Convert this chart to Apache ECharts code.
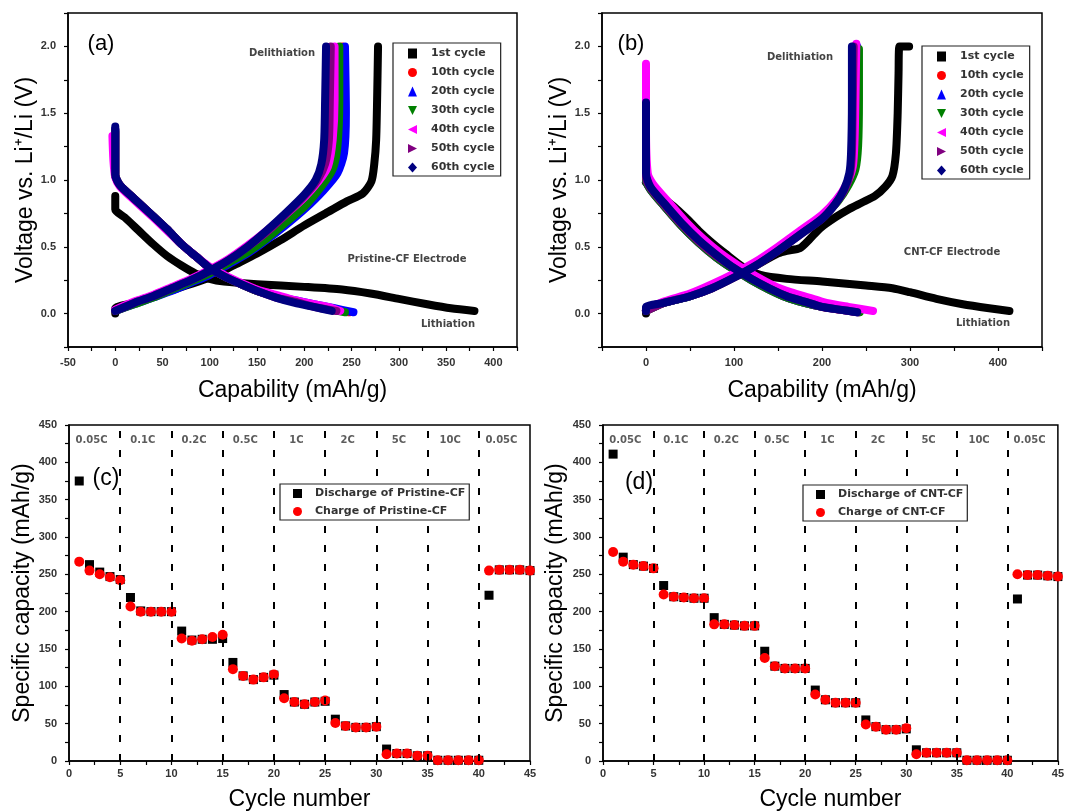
<!DOCTYPE html>
<html>
<head>
<meta charset="utf-8">
<script src="https://cdn.jsdelivr.net/npm/echarts@6/dist/echarts.min.js"></script>
<style>
  html, body { margin: 0; padding: 0; background: #fff; }
  #chart { width: 1067px; height: 812px; }
</style>
</head>
<body>
<div id="chart"></div>
<script>
// ---- (a) Pristine-CF : [capacity mAh/g, voltage V] ----
const aLi1 = [[0,0.88],[0,0.78],[10,0.72],[25,0.62],[40,0.52],[55,0.43],[70,0.36],[85,0.30],[100,0.26],[115,0.24],[150,0.22],[200,0.20],[240,0.18],[270,0.15],[300,0.11],[330,0.07],[355,0.04],[380,0.02]]
const aDe1 = [[0,0.0],[0,0.04],[20,0.08],[50,0.15],[75,0.21],[100,0.27],[125,0.36],[150,0.45],[175,0.55],[200,0.66],[225,0.76],[245,0.84],[262,0.90],[271,0.99],[274,1.12],[276,1.3],[277,1.6],[278,2.0]]
const aLi10 = [[0,1.36],[0,1.2],[0,1.04],[5,0.96],[20,0.86],[40,0.73],[55,0.63],[70,0.52],[85,0.43],[100,0.34],[115,0.28],[130,0.23],[150,0.17],[170,0.13],[190,0.09],[210,0.06],[230,0.03],[247,0.01]]
const aDe10 = [[0,0.02],[20,0.08],[40,0.13],[60,0.18],[80,0.24],[100,0.30],[120,0.38],[140,0.47],[160,0.57],[180,0.69],[200,0.82],[216,0.95],[229,1.08],[236,1.25],[239,1.6],[240,2.0]]
const aLi20 = [[0,1.38],[0,1.2],[0,1.04],[5,0.96],[20,0.86],[40,0.73],[55,0.63],[70,0.52],[85,0.43],[100,0.34],[115,0.28],[130,0.23],[150,0.17],[170,0.13],[190,0.10],[210,0.07],[232,0.04],[252,0.01]]
const aDe20 = [[0,0.02],[20,0.07],[40,0.12],[60,0.17],[80,0.23],[100,0.29],[120,0.37],[140,0.45],[160,0.55],[180,0.66],[200,0.78],[220,0.92],[235,1.05],[242,1.2],[244,1.5],[243,2.0]]
const aLi30 = [[0,1.37],[0,1.2],[0,1.04],[5,0.96],[20,0.86],[40,0.73],[55,0.63],[70,0.52],[85,0.43],[100,0.34],[115,0.28],[130,0.23],[150,0.17],[170,0.13],[190,0.09],[210,0.06],[228,0.03],[243,0.01]]
const aDe30 = [[0,0.02],[20,0.07],[40,0.12],[60,0.18],[80,0.24],[100,0.30],[120,0.38],[140,0.46],[160,0.56],[180,0.68],[200,0.80],[218,0.95],[230,1.08],[235,1.25],[237,1.6],[237,2.0]]
const aLi40 = [[-3,1.33],[-2,1.15],[0,1.02],[5,0.95],[20,0.85],[40,0.72],[55,0.62],[70,0.52],[85,0.43],[100,0.35],[115,0.29],[130,0.24],[150,0.18],[170,0.14],[190,0.10],[210,0.07],[225,0.05],[238,0.02]]
const aDe40 = [[0,0.03],[20,0.09],[40,0.14],[60,0.20],[80,0.26],[100,0.33],[120,0.41],[140,0.51],[160,0.62],[180,0.74],[200,0.87],[215,0.99],[225,1.1],[230,1.3],[232,1.6],[232,2.0]]
const aLi50 = [[0,1.38],[0,1.2],[0,1.04],[5,0.96],[20,0.86],[40,0.73],[55,0.63],[70,0.52],[85,0.43],[100,0.34],[115,0.28],[130,0.23],[150,0.17],[170,0.12],[190,0.09],[210,0.05],[234,0.02]]
const aDe50 = [[0,0.02],[20,0.08],[40,0.13],[60,0.19],[80,0.25],[100,0.32],[120,0.40],[140,0.50],[160,0.61],[180,0.74],[200,0.88],[214,1.0],[222,1.12],[226,1.3],[227,1.6],[228,2.0]]
const aLi60 = [[0,1.40],[0,1.2],[0,1.04],[5,0.96],[20,0.86],[40,0.73],[55,0.63],[70,0.52],[85,0.43],[100,0.34],[115,0.28],[130,0.23],[150,0.17],[170,0.12],[190,0.08],[210,0.05],[229,0.02]]
const aDe60 = [[0,0.02],[20,0.08],[40,0.13],[60,0.19],[80,0.25],[100,0.32],[120,0.40],[140,0.50],[160,0.62],[180,0.75],[200,0.89],[212,1.0],[218,1.12],[221,1.3],[222,1.6],[223,2.0]]

// ---- (b) CNT-CF ----
const bLi1 = [[0,0.98],[10,0.91],[20,0.86],[32,0.80],[45,0.72],[60,0.62],[75,0.53],[90,0.45],[110,0.35],[130,0.29],[160,0.26],[200,0.24],[250,0.21],[280,0.19],[300,0.16],[330,0.11],[360,0.07],[390,0.04],[413,0.02]]
const bDe1 = [[0,0.0],[0,0.04],[20,0.08],[50,0.13],[75,0.19],[100,0.27],[125,0.36],[150,0.45],[160,0.47],[175,0.49],[185,0.55],[198,0.64],[215,0.72],[230,0.78],[245,0.83],[260,0.88],[272,0.95],[280,1.03],[284,1.2],[286,1.5],[287,1.8],[288,2.0],[299,2.0]]
const bLi10 = [[0,1.50],[0,1.2],[0,1.0],[5,0.93],[20,0.81],[40,0.66],[60,0.53],[80,0.42],[100,0.33],[120,0.25],[140,0.18],[160,0.12],[180,0.08],[200,0.05],[220,0.03],[242,0.01]]
const bDe10 = [[0,0.02],[20,0.08],[50,0.14],[75,0.21],[100,0.29],[125,0.38],[150,0.49],[175,0.61],[200,0.73],[216,0.84],[227,0.95],[234,1.07],[237,1.25],[238,1.6],[239,2.0]]
const bLi20 = [[0,1.52],[0,1.2],[0,1.0],[5,0.93],[20,0.81],[40,0.66],[60,0.53],[80,0.42],[100,0.33],[120,0.25],[140,0.18],[160,0.12],[180,0.08],[200,0.05],[220,0.03],[241,0.01]]
const bDe20 = [[0,0.02],[20,0.08],[50,0.13],[75,0.20],[100,0.28],[125,0.37],[150,0.48],[175,0.60],[200,0.72],[216,0.83],[227,0.94],[234,1.06],[237,1.25],[238,1.6],[240,2.0]]
const bLi30 = [[0,1.50],[0,1.2],[0,1.0],[5,0.93],[20,0.81],[40,0.66],[60,0.53],[80,0.42],[100,0.33],[120,0.25],[140,0.18],[160,0.12],[180,0.08],[200,0.05],[222,0.03],[243,0.01]]
const bDe30 = [[0,0.02],[20,0.08],[50,0.13],[75,0.20],[100,0.28],[125,0.37],[150,0.48],[175,0.60],[200,0.72],[218,0.84],[230,0.96],[238,1.08],[241,1.25],[242,1.6],[242,1.98]]
const bLi40 = [[0,1.87],[0,1.4],[2,1.05],[8,0.97],[25,0.84],[45,0.69],[65,0.56],[85,0.45],[105,0.36],[125,0.28],[145,0.21],[165,0.16],[185,0.12],[205,0.08],[230,0.05],[258,0.02]]
const bDe40 = [[0,0.03],[20,0.09],[50,0.15],[75,0.22],[100,0.30],[125,0.39],[150,0.50],[175,0.62],[200,0.74],[216,0.85],[228,0.97],[235,1.1],[237,1.3],[238,1.6],[239,2.02]]
const bLi50 = [[0,1.55],[0,1.2],[0,1.02],[5,0.94],[20,0.82],[40,0.67],[60,0.54],[80,0.43],[100,0.34],[120,0.26],[140,0.19],[160,0.13],[180,0.09],[200,0.05],[220,0.03],[240,0.01]]
const bDe50 = [[0,0.02],[20,0.08],[50,0.13],[75,0.19],[100,0.27],[125,0.36],[150,0.47],[175,0.59],[200,0.71],[215,0.82],[226,0.93],[232,1.05],[234,1.2],[235,1.6],[236,2.0]]
const bLi60 = [[0,1.58],[0,1.3],[0,1.05],[5,0.95],[20,0.83],[40,0.68],[60,0.55],[80,0.44],[100,0.34],[120,0.26],[140,0.19],[160,0.13],[180,0.09],[200,0.05],[220,0.03],[240,0.01]]
const bDe60 = [[0,0.02],[0,0.05],[20,0.08],[50,0.13],[75,0.19],[100,0.27],[125,0.36],[150,0.47],[175,0.59],[200,0.71],[215,0.82],[225,0.93],[231,1.05],[233,1.2],[234,1.6],[234,2.0]]

// ---- (c)/(d) rate capability ----
const cycles = [1,2,3,4,5,6,7,8,9,10,11,12,13,14,15,16,17,18,19,20,21,22,23,24,25,26,27,28,29,30,31,32,33,34,35,36,37,38,39,40,41,42,43,44,45]
const pristineDischarge = [375,263,253,247,243,219,201,200,200,200,174,162,163,163,164,132,114,109,112,115,89,79,76,79,80,56,47,45,45,46,16,10,10,7,7,1,1,1,1,1,222,256,256,256,255]
const pristineCharge = [267,255,250,246,242,207,200,200,200,200,164,161,163,166,169,123,114,109,112,116,84,79,76,79,81,51,47,45,45,46,9,10,10,7,7,1,1,1,1,1,255,256,256,256,255]
const cntDischarge = [411,273,263,261,258,235,220,219,218,218,192,183,182,181,181,147,127,124,124,124,95,82,78,78,78,55,46,42,42,43,15,11,11,11,11,1,1,1,1,1,217,249,249,248,247]
const cntCharge = [280,267,263,261,258,223,220,219,218,218,183,183,182,181,181,138,127,124,124,124,89,82,78,78,78,49,46,42,42,44,9,11,11,11,11,1,1,1,1,1,250,249,249,248,247]
const rateNames = ['0.05C','0.1C','0.2C','0.5C','1C','2C','5C','10C','0.05C']
const rateBounds = [5,10,15,20,25,30,35,40]

const cycleNames = ['1st cycle','10th cycle','20th cycle','30th cycle','40th cycle','50th cycle','60th cycle']
const cycleColors = ['#000000','#ff0000','#0000ff','#008000','#ff00ff','#800080','#000080']
const cycleIcons = ['rect','circle','triangle','path://M0,0L10,0L5,10Z','path://M10,0L10,10L0,5Z','path://M0,0L10,5L0,10Z','diamond']
const aCurves = [[aLi1,aDe1],[aLi10,aDe10],[aLi20,aDe20],[aLi30,aDe30],[aLi40,aDe40],[aLi50,aDe50],[aLi60,aDe60]]
const bCurves = [[bLi1,bDe1],[bLi10,bDe10],[bLi20,bDe20],[bLi30,bDe30],[bLi40,bDe40],[bLi50,bDe50],[bLi60,bDe60]]

const chart = echarts.init(document.getElementById('chart'))
const FONT = 'Arial, "Liberation Sans", sans-serif'
const SMALL = '"DejaVu Sans", Arial, sans-serif'

function onStep (v, step) {
  const r = v / step
  return Math.abs(r - Math.round(r)) < 1e-6
}

// value axis with ticks every `step`, labels every `labelStep`
function axis (type, grid, min, max, step, labelStep, dec, name, gap, opts) {
  opts = opts || {}
  return {
    type: 'value',
    gridIndex: grid,
    min: min,
    max: max,
    interval: step,
    name: name,
    nameLocation: 'middle',
    nameGap: gap,
    nameTextStyle: { fontFamily: FONT, fontSize: 23, color: '#000' },
    axisLine: { show: true, onZero: false, lineStyle: { color: '#000', width: 1.5 } },
    axisTick: { show: true, length: 4, lineStyle: { color: '#000', width: 1.2 } },
    splitLine: { show: false },
    axisLabel: {
      fontFamily: FONT,
      fontSize: 11,
      fontWeight: 'bold',
      color: '#333',
      margin: type === 'x' ? (opts.xMargin || 8) : 12,
      showMaxLabel: true,
      showMinLabel: true,
      formatter: v => {
        if (!onStep(v, labelStep)) return ''
        if (opts.nonNeg && v < 0) return ''
        return v.toFixed(dec)
      }
    }
  }
}

const grids = [
  { left: 68, top: 13, width: 449, height: 334 },
  { left: 602, top: 13, width: 440, height: 334 },
  { left: 69, top: 425, width: 461, height: 337 },
  { left: 603, top: 425, width: 461, height: 337 }
].map(g => Object.assign({ show: true, borderColor: '#000', borderWidth: 1.5, backgroundColor: 'transparent' }, g))

const xAxes = [
  axis('x', 0, -50, 425, 25, 50, 0, 'Capability (mAh/g)', 32, { xMargin: 10 }),
  axis('x', 1, -50, 450, 50, 100, 0, 'Capability (mAh/g)', 32, { xMargin: 10, nonNeg: true }),
  axis('x', 2, 0, 45, 2.5, 5, 0, 'Cycle number', 27, { xMargin: 7 }),
  axis('x', 3, 0, 45, 2.5, 5, 0, 'Cycle number', 27, { xMargin: 7 })
]
const yAxes = [
  axis('y', 0, -0.25, 2.25, 0.25, 0.5, 1, 'Voltage vs. Li\u207A/Li (V)', 31),
  axis('y', 1, -0.25, 2.25, 0.25, 0.5, 1, 'Voltage vs. Li\u207A/Li (V)', 28),
  axis('y', 2, 0, 450, 25, 50, 0, 'Specific capacity (mAh/g)', 35),
  axis('y', 3, 0, 450, 25, 50, 0, 'Specific capacity (mAh/g)', 36)
]

const series = []
function addVoltage (curves, gridIndex) {
  curves.forEach((pair, i) => {
    pair.forEach(curve => {
      series.push({
        type: 'line',
        name: cycleNames[i],
        xAxisIndex: gridIndex,
        yAxisIndex: gridIndex,
        data: curve,
        smooth: 0.25,
        showSymbol: false,
        symbol: cycleIcons[i],
        itemStyle: { color: cycleColors[i] },
        lineStyle: { color: cycleColors[i], width: 8, cap: 'round', join: 'round' },
        silent: true,
        animation: false
      })
    })
  })
}
addVoltage(aCurves, 0)
addVoltage(bCurves, 1)

function addRate (gridIndex, dis, chg, disName, chgName) {
  series.push({
    type: 'scatter',
    name: disName,
    xAxisIndex: gridIndex,
    yAxisIndex: gridIndex,
    symbol: 'rect',
    symbolSize: 9,
    itemStyle: { color: '#000', opacity: 1 },
    data: cycles.map((c, i) => [c, dis[i]]),
    markLine: {
      silent: true,
      symbol: ['none', 'none'],
      label: { show: false },
      lineStyle: { color: '#000', width: 2, type: [7, 12], opacity: 1 },
      data: rateBounds.map(x => ({ xAxis: x }))
    },
    animation: false
  })
  series.push({
    type: 'scatter',
    name: chgName,
    xAxisIndex: gridIndex,
    yAxisIndex: gridIndex,
    symbol: 'circle',
    symbolSize: 10,
    itemStyle: { color: '#ff0000', opacity: 1 },
    data: cycles.map((c, i) => [c, chg[i]]),
    animation: false
  })
  series.push({
    type: 'scatter',
    name: 'rates',
    xAxisIndex: gridIndex,
    yAxisIndex: gridIndex,
    symbolSize: 0,
    silent: true,
    label: {
      show: true,
      position: 'inside',
      offset: [-3, 0],
      formatter: p => p.name,
      fontFamily: SMALL,
      fontSize: 10,
      fontWeight: 'bold',
      color: '#333'
    },
    data: rateNames.map((n, i) => ({ name: n, value: [5 * i + 2.5, 430] })),
    animation: false
  })
}
addRate(2, pristineDischarge, pristineCharge, 'Discharge of Pristine-CF', 'Charge of Pristine-CF')
addRate(3, cntDischarge, cntCharge, 'Discharge of CNT-CF', 'Charge of CNT-CF')

function cycleLegend (left, top) {
  return {
    left: left,
    top: top,
    z: 10,
    orient: 'vertical',
    selectedMode: false,
    backgroundColor: '#fff',
    borderColor: '#222',
    borderWidth: 1.2,
    padding: [5, 6, 3, 15],
    itemGap: 8,
    itemWidth: 9,
    itemHeight: 10,
    textStyle: { fontFamily: SMALL, fontSize: 11, fontWeight: 'bold', color: '#333', padding: [0, 0, 0, 9] },
    data: cycleNames.map((n, i) => ({ name: n, icon: cycleIcons[i] }))
  }
}
function rateLegend (left, top, names) {
  return {
    left: left,
    top: top,
    z: 10,
    orient: 'vertical',
    selectedMode: false,
    backgroundColor: '#fff',
    borderColor: '#222',
    borderWidth: 1.2,
    padding: [4, 4, 3, 13],
    itemGap: 7,
    itemWidth: 9,
    itemHeight: 9,
    textStyle: { fontFamily: SMALL, fontSize: 11, fontWeight: 'bold', color: '#333', padding: [0, 0, 0, 8] },
    data: [{ name: names[0], icon: 'rect' }, { name: names[1], icon: 'circle' }]
  }
}

function txt (x, y, text, size, weight, color, family) {
  return {
    type: 'text',
    x: x,
    y: y,
    z: 100,
    style: {
      text: text,
      fontFamily: family || FONT,
      fontSize: size,
      fontWeight: weight || 'normal',
      fill: color || '#000',
      align: 'center',
      verticalAlign: 'middle'
    }
  }
}

chart.setOption({
  backgroundColor: '#fff',
  animation: false,
  grid: grids,
  xAxis: xAxes,
  yAxis: yAxes,
  legend: [
    cycleLegend(393, 43),
    cycleLegend(922, 46),
    rateLegend(280, 484, ['Discharge of Pristine-CF', 'Charge of Pristine-CF']),
    rateLegend(803, 485, ['Discharge of CNT-CF', 'Charge of CNT-CF'])
  ],
  graphic: [
    txt(101, 44, '(a)', 22),
    txt(631, 44, '(b)', 22),
    txt(106, 479, '(c)', 23),
    txt(639, 483, '(d)', 23),
    txt(282, 53, 'Delithiation', 10, 'bold', '#444', SMALL),
    txt(407, 259, 'Pristine-CF Electrode', 10, 'bold', '#444', SMALL),
    txt(448, 324, 'Lithiation', 10, 'bold', '#444', SMALL),
    txt(800, 57, 'Delithiation', 10, 'bold', '#444', SMALL),
    txt(952, 252, 'CNT-CF Electrode', 10, 'bold', '#444', SMALL),
    txt(983, 323, 'Lithiation', 10, 'bold', '#444', SMALL)
  ],
  series: series
})
</script>
</body>
</html>
